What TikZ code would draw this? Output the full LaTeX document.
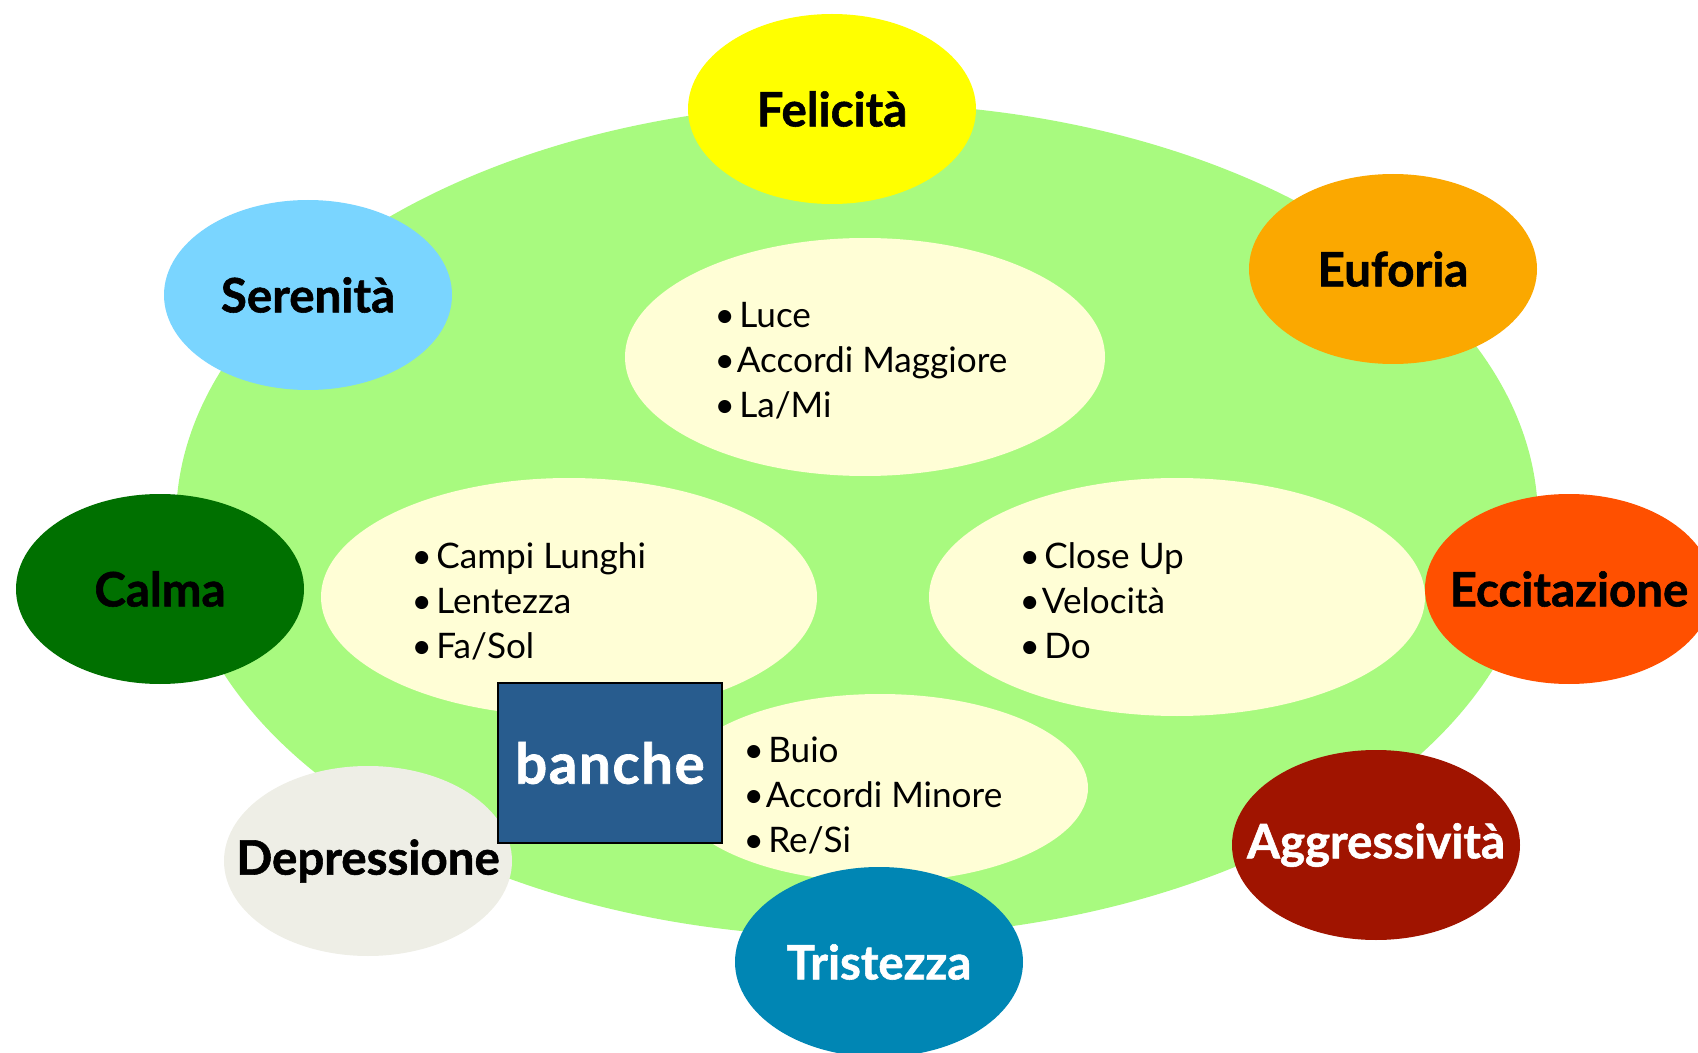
\documentclass[tikz,border=0pt]{standalone}
\usepackage{fontspec}
\setmainfont{Lato}
\usepackage{tikz}
\usetikzlibrary{positioning,shapes.geometric}
\definecolor{prato}{HTML}{A8FA7F}
\definecolor{crema}{HTML}{FFFED6}
\definecolor{cFel}{HTML}{FFFF00}
\definecolor{cEuf}{HTML}{FBA800}
\definecolor{cSer}{HTML}{7AD5FF}
\definecolor{cCal}{HTML}{007000}
\definecolor{cEcc}{HTML}{FF5000}
\definecolor{cAgg}{HTML}{A01400}
\definecolor{cTri}{HTML}{0086B4}
\definecolor{cDep}{HTML}{EEEEE6}
\definecolor{cBan}{HTML}{285C8E}
\newcommand{\pt}{\textbullet\hspace{1.2pt}}
\newcommand{\ptt}{\textbullet\hspace{0.5pt}}
\tikzset{
  mood/.style={ellipse, inner sep=0pt, minimum width=28.8mm, minimum height=19mm,
               font=\fontsize{13.5}{15}\selectfont\bfseries\addfontfeature{FakeBold=1.2}},
  pale/.style={ellipse, fill=crema, inner sep=0pt},
  lst/.style={align=left, inner sep=0pt, anchor=west,
              font=\fontsize{10}{12.8}\selectfont},
  bank/.style={draw=black, line width=0.4pt, fill=cBan, text=white, inner sep=0pt,
               minimum width=22.4mm, minimum height=16mm,
               font=\fontsize{16}{18}\selectfont\bfseries\addfontfeature{FakeBold=1.2,LetterSpace=3}},
}
\begin{document}
\begin{tikzpicture}[x=0.1mm, y=-0.1mm]
    \useasboundingbox (0,0) rectangle (1698,1053);
    \node[ellipse, fill=prato, inner sep=0pt, minimum width=136.2mm, minimum height=83.4mm] (campo) at (857,520) {};
    \node[pale, minimum width=48mm, minimum height=23.8mm] (ovTop) at (865,357) {};
    \node[pale, minimum width=49.6mm, minimum height=23.8mm] (ovLeft) at (569,597) {};
    \node[pale, minimum width=49.6mm, minimum height=23.8mm] (ovRight) at (1177,597) {};
    \node[pale, minimum width=41.6mm, minimum height=18.8mm] (ovBottom) at (880,788) {};
    \node[lst] (lsTop) at (714,361) {\pt Luce\\\ptt Accordi Maggiore\\\pt La/Mi};
    \node[lst] (lsLeft) at (411,601) {\pt Campi Lunghi\\\pt Lentezza\\\pt Fa/Sol};
    \node[lst] (lsRight) at (1019,601) {\pt Close Up\\\ptt Velocità\\\pt Do};
    \node[lst] (lsBottom) at (743,795) {\pt Buio\\\ptt Accordi Minore\\\pt Re/Si};
    \node[mood, fill=cFel] (felicita) at (832,109) {\makebox[0pt]{Felicità}};
    \node[mood, fill=cEuf] (euforia) at (1393,269) {\makebox[0pt]{Euforia}};
    \node[mood, fill=cSer] (serenita) at (308,295) {\makebox[0pt]{Serenità}};
    \node[mood, fill=cCal] (calma) at (160,589) {\makebox[0pt]{Calma}};
    \node[mood, fill=cEcc] (eccitazione) at (1569,589) {\makebox[0pt]{Eccitazione}};
    \node[mood, fill=cAgg, text=white] (aggressivita) at (1376,845) {\makebox[0pt]{Aggressività}};
    \node[mood, fill=cDep] (depressione) at (368,861) {\makebox[0pt]{Depressione}};
    \node[mood, fill=cTri, text=white] (tristezza) at (879,962) {\makebox[0pt]{Tristezza}};
    \node[bank] (banche) at (610,763) {\makebox[0pt]{banche}};
\end{tikzpicture}
\end{document}
